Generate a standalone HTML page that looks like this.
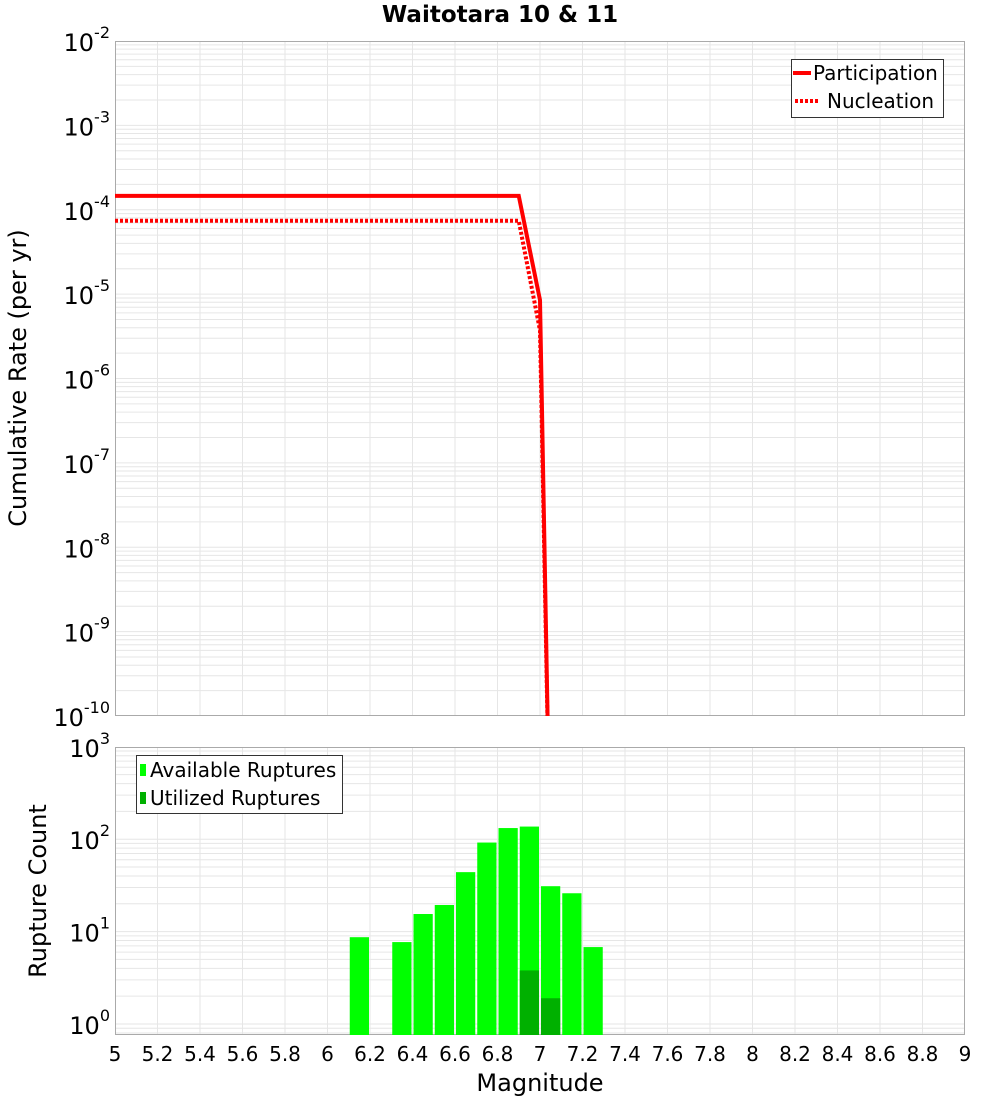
<!DOCTYPE html>
<html><head><meta charset="utf-8">
<style>
html,body{margin:0;padding:0;background:#fff;}
svg{display:block;font-family:"DejaVu Sans","Liberation Sans",sans-serif;}
</style></head>
<body>
<svg id="chart" width="1000" height="1100" xmlns="http://www.w3.org/2000/svg"></svg>
<script>
// ---- data ----
const partMags = [5.0, 6.9, 7.0, 7.05];
const partRates = [1.46e-4, 1.46e-4, 8.5e-6, 1e-12];
const nuclMags = [5.0, 6.9, 7.0, 7.05];
const nuclRates = [7.4e-5, 7.4e-5, 3.7e-6, 1e-12];
const binMags = [6.15, 6.35, 6.45, 6.55, 6.65, 6.75, 6.85, 6.95, 7.05, 7.15, 7.25];
const availCounts = [8.7, 7.7, 15.5, 19.4, 44, 92, 132, 137, 31, 26, 6.8];
const utilMags = [6.95, 7.05];
const utilCounts = [3.8, 1.9];
const xTicks = [5,5.2,5.4,5.6,5.8,6,6.2,6.4,6.6,6.8,7,7.2,7.4,7.6,7.8,8,8.2,8.4,8.6,8.8,9];
const topExps = [-2,-3,-4,-5,-6,-7,-8,-9,-10];
const botExps = [3,2,1,0];

const NS = "http://www.w3.org/2000/svg";
const svg = document.getElementById('chart');
function el(tag, attrs, parent){
  const e = document.createElementNS(NS, tag);
  for (const k in attrs) e.setAttribute(k, attrs[k]);
  (parent||svg).appendChild(e);
  return e;
}
const L = 115, R = 965;
const T1 = 41, B1 = 716, T2 = 747, B2 = 1035;
const x = m => L + (m - 5) / 4 * (R - L);
const y1 = v => T1 + (-2 - Math.log10(v)) * (B1 - T1) / 8;
const D2 = 92.4, Y0 = 1024;
const y2 = v => Y0 - Math.log10(v) * D2;

const defs = el('defs', {});
const c1 = el('clipPath', {id:'c1'}, defs); el('rect',{x:L,y:T1,width:R-L,height:B1-T1},c1);
const c2 = el('clipPath', {id:'c2'}, defs); el('rect',{x:L,y:T2,width:R-L,height:B2-T2},c2);

function grid(top, bottom, yfn, lo, hi, name){
  const g = el('g', {'clip-path': top===T1?'url(#c1)':'url(#c2)'});
  
  
  for (let e = lo; e <= hi; e++) for (let k = 1; k <= 9; k++){
    const yy = yfn(k * Math.pow(10, e));
    if (yy < top || yy > bottom) continue;
    el('line',{x1:L,x2:R,y1:yy,y2:yy,stroke:'#e6e6e6','stroke-width':1},g);
  }
  xTicks.forEach(t => { const xx = x(t); el('line',{x1:xx,x2:xx,y1:top,y2:bottom,stroke:'#e6e6e6','stroke-width':1},g); });
}
grid(T1, B1, y1, -11, -3, 'top-grid');
grid(T2, B2, y2, -1, 3, 'bottom-grid');

const f1 = el('rect',{x:L+0.5,y:T1+0.5,width:R-L-1,height:B1-T1-1,fill:'none',stroke:'#aaa'});
 
const f2 = el('rect',{x:L+0.5,y:T2+0.5,width:R-L-1,height:B2-T2-1,fill:'none',stroke:'#aaa'});
 

function line(mags, vals, dash, name){
  const p = mags.map((m,i)=> x(m)+','+y1(vals[i])).join(' ');
  const a = {points:p,fill:'none',stroke:'#ff0000','stroke-width':4,'clip-path':'url(#c1)'};
  if (dash) a['stroke-dasharray'] = dash;
  const e = el('polyline', a);
  
  
}
line(nuclMags, nuclRates, '3,2', 'nucleation-line');
line(partMags, partRates, null, 'participation-line');

const bw = (R-L)/40;
binMags.forEach((m,i)=>{
  const yt = y2(availCounts[i]);
  const b = el('rect',{x:x(m)-bw/2+1,y:yt,width:bw-2,height:B2-yt,fill:'#00ff00'});
  
  
});
utilMags.forEach((m,i)=>{
  const yt = y2(utilCounts[i]);
  const b = el('rect',{x:x(m)-bw/2+1,y:yt,width:bw-2,height:B2-yt,fill:'#00b000'});
  
  
});

function txt(s, attrs, name){
  const t = el('text', attrs); t.textContent = s;
  
  
  return t;
}
xTicks.forEach(t=>{
  txt(String(t), {x:x(t), y:1061, 'font-size':20, 'text-anchor':'middle', fill:'#000'}, 'x-tick-label');
});
function powLabel(e, yy){
  const t = el('text',{x:110,y:yy+10,'font-size':24,'text-anchor':'end',fill:'#000'});
  
  
  const a = el('tspan',{},t); a.textContent='10';
  const b = el('tspan',{dy:-13,'font-size':16},t); b.textContent=String(e);
}
topExps.forEach(e=>powLabel(e, y1(Math.pow(10,e))));
botExps.forEach(e=>powLabel(e, y2(Math.pow(10,e))));

txt('Waitotara 10 & 11',{x:500,y:22,'font-size':23,'font-weight':'bold','text-anchor':'middle'},'chart-title');
txt('Magnitude',{x:540,y:1091,'font-size':24,'text-anchor':'middle'},'x-axis-title');
txt('Cumulative Rate (per yr)',{x:26,y:378,'font-size':24,'text-anchor':'middle',transform:'rotate(-90 26 378)'},'top-y-axis-title');
txt('Rupture Count',{x:46,y:891,'font-size':24,'text-anchor':'middle',transform:'rotate(-90 46 891)'},'bottom-y-axis-title');

const lg1 = el('g',{});  
el('rect',{x:791.5,y:59.5,width:152,height:58,fill:'#fff',stroke:'#333'},lg1);
el('line',{x1:793,x2:811,y1:73,y2:73,stroke:'#ff0000','stroke-width':4},lg1);
el('line',{x1:795,x2:820,y1:101,y2:101,stroke:'#ff0000','stroke-width':4,'stroke-dasharray':'3,2'},lg1);
const t1 = el('text',{x:813,y:80,'font-size':20},lg1); t1.textContent='Participation';
 
const t2 = el('text',{x:827,y:108,'font-size':20},lg1); t2.textContent='Nucleation';
 

const lg2 = el('g',{});  
el('rect',{x:136.5,y:755.5,width:206,height:58,fill:'#fff',stroke:'#333'},lg2);
el('rect',{x:140,y:764,width:6,height:12,fill:'#00ff00'},lg2);
el('rect',{x:140,y:792,width:6,height:12,fill:'#00b000'},lg2);
const t3 = el('text',{x:150,y:777,'font-size':20},lg2); t3.textContent='Available Ruptures';
 
const t4 = el('text',{x:150,y:805,'font-size':20},lg2); t4.textContent='Utilized Ruptures';
 
</script>
</body></html>
